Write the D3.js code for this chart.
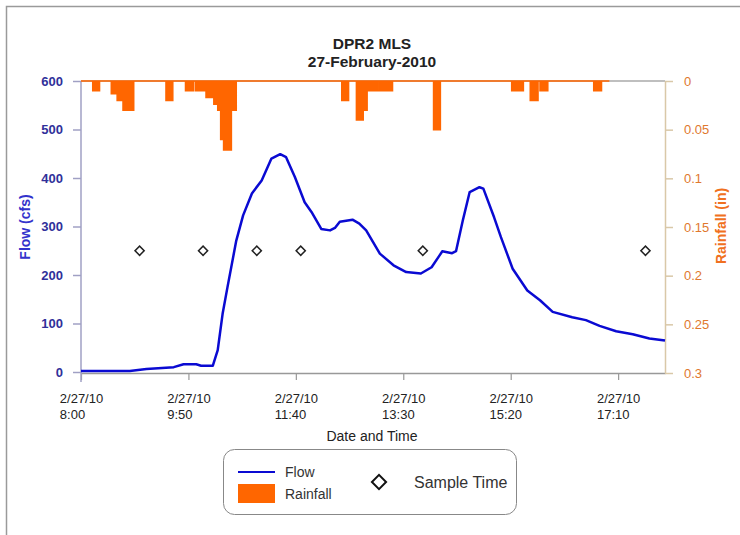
<!DOCTYPE html>
<html>
<head>
<meta charset="utf-8">
<script src="https://cdnjs.cloudflare.com/ajax/libs/d3/7.8.5/d3.min.js"></script>
<style>
  body { margin: 0; background: #fff; }
  svg { display: block; font-family: "Liberation Sans", Arial, sans-serif; }
</style>
</head>
<body>
<svg width="740" height="535"></svg>
<script>
// Flow (cfs)
const flowTimes = ["8:00", "8:50", "9:07", "9:35", "9:45", "9:58", "10:03", "10:15", "10:20", "10:25",
  "10:30", "10:39", "10:46", "10:55", "11:05", "11:15", "11:24", "11:30", "11:39", "11:49",
  "11:56", "12:06", "12:15", "12:20", "12:25", "12:38", "12:45", "12:52", "13:06", "13:20",
  "13:33", "13:48", "13:59", "14:07", "14:10", "14:20", "14:24", "14:31", "14:38", "14:48",
  "14:52", "15:03", "15:10", "15:22", "15:37", "15:50", "16:03", "16:23", "16:37", "16:51",
  "17:08", "17:25", "17:42", "17:58"];
const flowValues = [2, 2, 6, 10, 16, 16, 13, 13, 45, 120,
  175, 271, 323, 368, 395, 440, 449, 443, 402, 350,
  330, 295, 292, 297, 310, 314, 306, 292, 244, 220,
  206, 203, 216, 240, 249, 245, 249, 313, 371, 381,
  378, 319, 278, 213, 168, 148, 124, 113, 107, 95,
  84, 78, 69, 65];

// Rainfall (in), value holds until the next time
const rainTimes = ["8:00", "8:12", "8:19", "8:31", "8:37", "8:43", "8:54", "9:27", "9:34", "9:47",
  "9:55", "9:57", "10:08", "10:16", "10:20", "10:23", "10:26", "10:34", "10:39", "12:27",
  "12:34", "12:42", "12:49", "12:53", "13:05", "13:06", "13:19", "14:01", "14:08", "15:21",
  "15:33", "15:40", "15:48", "15:50", "15:58", "16:45", "16:53", "17:01"];
const rainValues = [0, 0.01, 0, 0.013, 0.02, 0.03, 0, 0.02, 0, 0.01,
  0, 0.01, 0.017, 0.024, 0.03, 0.06, 0.071, 0.03, 0, 0.02,
  0, 0.04, 0.03, 0.01, 0, 0.01, 0, 0.05, 0, 0.01,
  0, 0.02, 0, 0.01, 0, 0.01, 0, 0];

// Sample times
const sampleTimes = ["9:00", "10:05", "11:00", "11:45", "13:50", "17:38"];
const sampleValues = [250, 250, 250, 250, 250, 250];

const xTickTimes = ["8:00", "9:50", "11:40", "13:30", "15:20", "17:10"];
const flowTicks = [0, 100, 200, 300, 400, 500, 600];
const rainTicks = [0, 0.05, 0.1, 0.15, 0.2, 0.25, 0.3];

const parseTime = d3.timeParse("%Y-%m-%d %H:%M");
const parse = (t) => parseTime("2010-02-27 " + t);

const svg = d3.select("svg");

const x = d3.scaleTime().domain([parse("8:00"), parse("17:58")]).range([81, 665]);
const yFlow = d3.scaleLinear().domain([0, 600]).range([372, 81]);
const yRain = d3.scaleLinear().domain([0, 0.3]).range([81, 373]);

// outer frame
svg.append("path")
  .attr("d", "M6.5,540V6.5H745")
  .attr("fill", "none")
  .attr("stroke", "#9a9a9a")
  .attr("stroke-width", 1.5);

// titles
svg.append("text").attr("x", 372).attr("y", 49).attr("text-anchor", "middle")
  .attr("font-size", 15.5).attr("font-weight", "bold").attr("fill", "#222").text("DPR2 MLS");
svg.append("text").attr("x", 372).attr("y", 67).attr("text-anchor", "middle")
  .attr("font-size", 15.5).attr("font-weight", "bold").attr("fill", "#222").text("27-February-2010");

// plot frame top line
svg.append("line")
  .attr("x1", 81).attr("x2", 665).attr("y1", 81).attr("y2", 81)
  .attr("stroke", "#aaa").attr("stroke-width", 1.5);

// bottom axis
const xAxis = svg.append("g")
  .attr("transform", "translate(0,373)")
  .call(d3.axisBottom(x).tickValues(xTickTimes.map(parse)).tickSize(7).tickSizeOuter(0)
    .tickFormat(d3.timeFormat("%-m/%d/%y")));
xAxis.select(".domain").attr("stroke", "#999").attr("stroke-width", 1.5);
xAxis.selectAll(".tick line").attr("stroke", "#999").attr("stroke-width", 1.2);
xAxis.selectAll(".tick text")
  .attr("font-size", 13).attr("fill", "#222").attr("y", 30).attr("dy", null)
  .each(function (d) {
    const t = d3.select(this);
    const w = this.getComputedTextLength();
    t.attr("text-anchor", "start").attr("x", -w / 2);
    const label = t.text();
    t.text(null);
    t.append("tspan").attr("x", -w / 2).text(label);
    t.append("tspan").attr("x", -w / 2).attr("dy", 16).text(d3.timeFormat("%-H:%M")(d));
  });

svg.append("text").attr("x", 372).attr("y", 441).attr("text-anchor", "middle")
  .attr("font-size", 14).attr("fill", "#222").text("Date and Time");

// left axis
const yAxisL = svg.append("g")
  .attr("transform", "translate(81,0)")
  .call(d3.axisLeft(yFlow).tickValues(flowTicks).tickSize(8).tickPadding(10).tickSizeOuter(0));
yAxisL.select(".domain").remove();
yAxisL.selectAll(".tick line").attr("stroke", "#a0a0c4").attr("stroke-width", 1.5);
yAxisL.selectAll(".tick text").attr("font-size", 13).attr("fill", "#30309a").attr("font-weight", "bold");
yAxisL.append("line").attr("x1", 0).attr("x2", 0).attr("y1", 81).attr("y2", 382)
  .attr("stroke", "#a0a0c4").attr("stroke-width", 1.5);

svg.append("text")
  .attr("transform", "translate(30,227) rotate(-90)")
  .attr("text-anchor", "middle")
  .attr("font-size", 14).attr("font-weight", "bold").attr("fill", "#3333cc")
  .text("Flow (cfs)");

// right axis
const yAxisR = svg.append("g")
  .attr("transform", "translate(665,0)")
  .call(d3.axisRight(yRain).tickValues(rainTicks).tickSize(8).tickPadding(11).tickSizeOuter(0)
    .tickFormat((d) => String(d)));
yAxisR.select(".domain").attr("stroke", "#d9c8a8").attr("stroke-width", 1.5);
yAxisR.selectAll(".tick line").attr("stroke", "#d9c8a8").attr("stroke-width", 1.5);
yAxisR.selectAll(".tick text").attr("font-size", 13).attr("fill", "#e0782e");

svg.append("text")
  .attr("transform", "translate(726,226) rotate(-90)")
  .attr("text-anchor", "middle")
  .attr("font-size", 14).attr("font-weight", "bold").attr("fill", "#f07020")
  .text("Rainfall (in)");

// rainfall step area
const rain = rainTimes.map((t, i) => ({ t: parse(t), v: rainValues[i] }));
svg.append("path")
  .datum(rain)
  .attr("fill", "#ff6600")
  .attr("stroke", "#ff6600")
  .attr("stroke-width", 1.5)
  .attr("d", d3.area().curve(d3.curveStepAfter)
    .x((d) => x(d.t)).y0(yRain(0)).y1((d) => yRain(d.v)));

// flow line
const flow = flowTimes.map((t, i) => ({ t: parse(t), v: flowValues[i] }));
svg.append("path")
  .datum(flow)
  .attr("fill", "none")
  .attr("stroke", "#0a0ad2")
  .attr("stroke-width", 2.5)
  .attr("stroke-linejoin", "round")
  .attr("d", d3.line().x((d) => x(d.t)).y((d) => yFlow(d.v)));

// sample markers
const diamond = d3.symbol().type(d3.symbolSquare).size(42);
svg.selectAll(".sample")
  .data(sampleTimes.map((t, i) => ({ t: parse(t), v: sampleValues[i] })))
  .enter()
  .append("path")
  .attr("class", "sample")
  .attr("transform", (d) => `translate(${x(d.t)},${yFlow(d.v)}) rotate(45)`)
  .attr("d", diamond)
  .attr("fill", "#fff")
  .attr("stroke", "#222")
  .attr("stroke-width", 1.5);

// legend
const legend = svg.append("g");
legend.append("rect")
  .attr("x", 223.5).attr("y", 449.5).attr("width", 293).attr("height", 65).attr("rx", 11)
  .attr("fill", "#fff").attr("stroke", "#888").attr("stroke-width", 1);
legend.append("line").attr("x1", 238).attr("x2", 275).attr("y1", 472).attr("y2", 472)
  .attr("stroke", "#0a0ad2").attr("stroke-width", 2);
legend.append("rect").attr("x", 238).attr("y", 484).attr("width", 37).attr("height", 19)
  .attr("fill", "#ff6600");
legend.append("text").attr("x", 285).attr("y", 477).attr("font-size", 14).attr("fill", "#333").text("Flow");
legend.append("text").attr("x", 285).attr("y", 499).attr("font-size", 14).attr("fill", "#333").text("Rainfall");
legend.append("path")
  .attr("transform", "translate(379,482) rotate(45)")
  .attr("d", d3.symbol().type(d3.symbolSquare).size(100))
  .attr("fill", "#fff").attr("stroke", "#111").attr("stroke-width", 2);
legend.append("text").attr("x", 414).attr("y", 488).attr("font-size", 16).attr("fill", "#333").text("Sample Time");
</script>
</body>
</html>
